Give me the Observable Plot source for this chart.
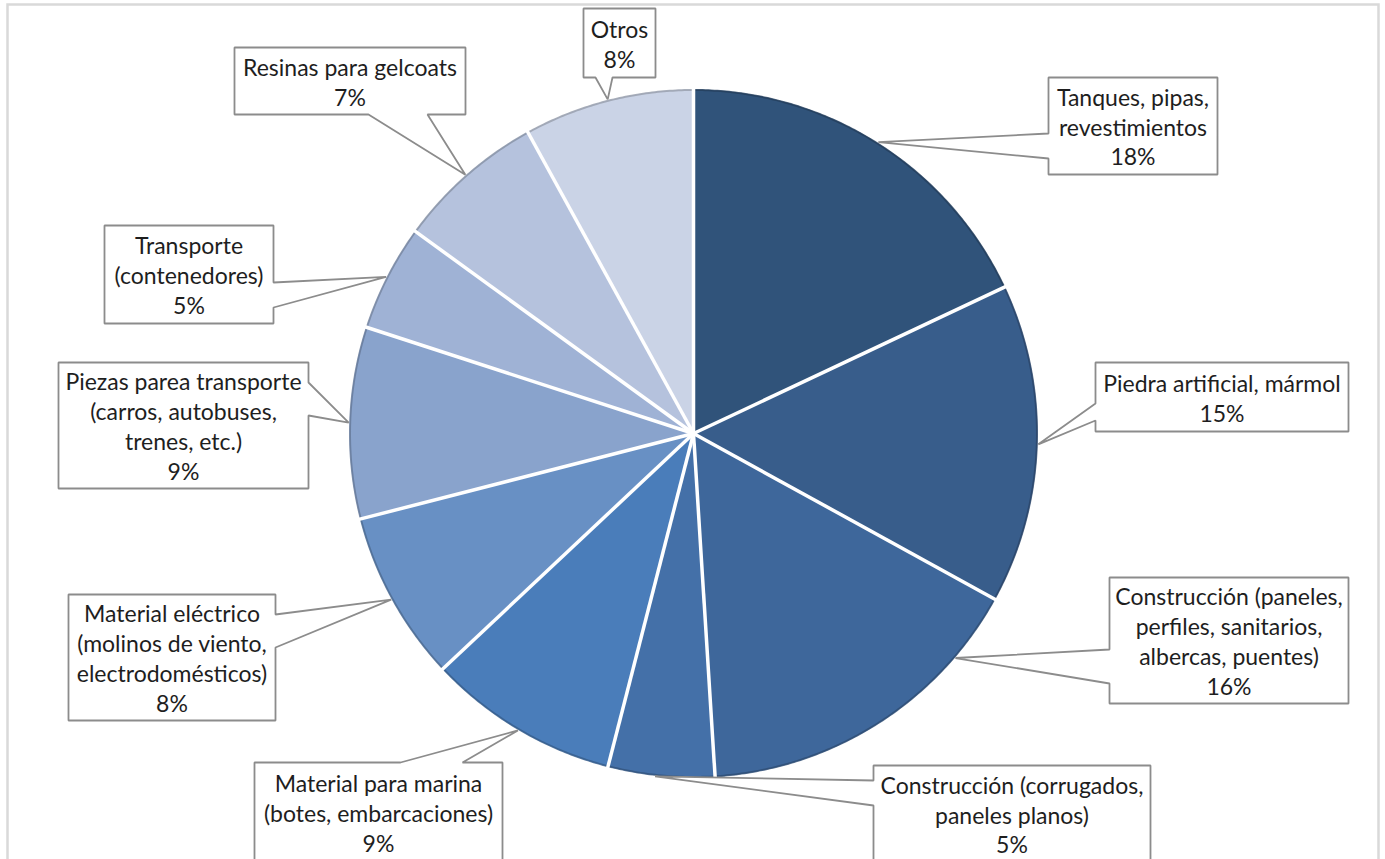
<!DOCTYPE html>
<html>
<head>
<meta charset="utf-8">
<script src="https://cdn.jsdelivr.net/npm/d3@7"></script>
<script src="https://cdn.jsdelivr.net/npm/@observablehq/plot@0.6"></script>
<style>
  html, body { margin: 0; padding: 0; background: #ffffff; }
  #chart svg { display: block; }
</style>
</head>
<body>
<div id="chart"></div>
<script>
// ---- data ----
const categories = [
  "Tanques, pipas, revestimientos",
  "Piedra artificial, mármol",
  "Construcción (paneles, perfiles, sanitarios, albercas, puentes)",
  "Construcción (corrugados, paneles planos)",
  "Material para marina (botes, embarcaciones)",
  "Material eléctrico (molinos de viento, electrodomésticos)",
  "Piezas parea transporte (carros, autobuses, trenes, etc.)",
  "Transporte (contenedores)",
  "Resinas para gelcoats",
  "Otros"
];
const labelText = [
  "Tanques, pipas,\nrevestimientos",
  "Piedra artificial, mármol",
  "Construcción (paneles,\nperfiles, sanitarios,\nalbercas, puentes)",
  "Construcción (corrugados,\npaneles planos)",
  "Material para marina\n(botes, embarcaciones)",
  "Material eléctrico\n(molinos de viento,\nelectrodomésticos)",
  "Piezas parea transporte\n(carros, autobuses,\ntrenes, etc.)",
  "Transporte\n(contenedores)",
  "Resinas para gelcoats",
  "Otros"
];
const shares = [18, 15, 16, 5, 9, 8, 9, 5, 7, 8];

// ---- styles ----
const colors = ["#30537a", "#385d8b", "#3e679b", "#4470a8", "#4a7dba", "#6890c4", "#89a3cc", "#9fb2d5", "#b5c2dd", "#cad3e6"];

// ---- layout (pixel frame) ----
const W = 1385, H = 859;
const cx = 693, cy = 433, R = 344;
// callout boxes: [left, top, right, bottom], pointer side, pointer base span, tip angle shift (deg)
const callouts = [
  {box: [1048, 77, 1217, 174], side: "left", base: [133, 158], shift: 0},
  {box: [1095, 362, 1348, 431], side: "left", base: [403, 420], shift: 0},
  {box: [1109, 577, 1348, 703], side: "left", base: [649, 683], shift: -17},
  {box: [873, 765, 1150, 862], side: "left", base: [780, 805], shift: 1},
  {box: [254, 762, 502, 862], side: "top", base: [400, 462], shift: 0},
  {box: [68, 594, 275, 720], side: "right", base: [614, 647], shift: 0},
  {box: [58, 362, 308, 488], side: "right", base: [382, 415], shift: 0},
  {box: [104, 225, 273, 323], side: "right", base: [282, 307], shift: 0},
  {box: [234, 47, 465, 114], side: "bottom", base: [368, 427], shift: 0},
  {box: [583, 8, 655, 77], side: "bottom", base: [595, 612], shift: 0}
];

// ---- geometry ----
const slices = d3.pie().sort(null).value(d => d)(shares);
const pt = (a, r) => ({x: cx + r * Math.sin(a), y: cy - r * Math.cos(a)});
const stepA = Math.PI / 360;

function arcPoints(s, r, k) {
  const n = Math.max(2, Math.ceil((s.endAngle - s.startAngle) / stepA));
  const out = [];
  for (let j = 0; j <= n; j++) {
    const a = s.startAngle + (s.endAngle - s.startAngle) * j / n;
    out.push({...pt(a, r), k});
  }
  return out;
}

const wedgePts = slices.flatMap((s, i) => {
  const k = categories[i];
  return [{...pt(0, 0), k}, ...arcPoints(s, R, k), {...pt(0, 0), k}];
});

function calloutPoly(c, tip, id) {
  const [x0, y0, x1, y1] = c.box;
  const [a, b] = c.base;
  let p;
  switch (c.side) {
    case "left": p = [[x0, y0], [x1, y0], [x1, y1], [x0, y1], [x0, b], [tip.x, tip.y], [x0, a]]; break;
    case "right": p = [[x0, y0], [x1, y0], [x1, a], [tip.x, tip.y], [x1, b], [x1, y1], [x0, y1]]; break;
    case "top": p = [[x0, y0], [a, y0], [tip.x, tip.y], [b, y0], [x1, y0], [x1, y1], [x0, y1]]; break;
    default: p = [[x0, y0], [x1, y0], [x1, y1], [b, y1], [tip.x, tip.y], [a, y1], [x0, y1]];
  }
  p.push(p[0], p[1]);
  return p.map(([x, y]) => ({x, y, id}));
}

const labels = slices.map((s, i) => {
  const c = callouts[i];
  const mid = (s.startAngle + s.endAngle) / 2 + c.shift * Math.PI / 180;
  const tip = pt(mid, R + 1);
  return {
    id: categories[i],
    tip,
    poly: calloutPoly(c, tip, categories[i]),
    tx: (c.box[0] + c.box[2]) / 2,
    ty: (c.box[1] + c.box[3]) / 2,
    text: labelText[i] + "\n" + shares[i] + "%"
  };
});

const font = "Lato, 'Open Sans', sans-serif";

const chart = Plot.plot({
  width: W,
  height: H,
  margin: 0,
  x: {domain: [0, W], range: [0, W], axis: null},
  y: {domain: [0, H], range: [0, H], axis: null},
  color: {domain: categories, range: colors},
  style: {background: "white", fontFamily: font},
  marks: [
    Plot.frame({stroke: "#d9d9d9", strokeWidth: 2.5, insetLeft: 7, insetTop: 4, insetRight: 7, insetBottom: -20}),
    Plot.line(wedgePts, {x: "x", y: "y", z: "k", fill: "k", stroke: "none"}),
    ...slices.map((s, i) => Plot.line(arcPoints(s, R - 0.5, categories[i]), {
      x: "x", y: "y",
      stroke: d3.color(colors[i]).darker(0.9).formatHex(),
      strokeWidth: 2, strokeOpacity: 0.75
    })),
    Plot.link(slices, {
      x1: () => cx, y1: () => cy,
      x2: s => pt(s.startAngle, R + 1.5).x,
      y2: s => pt(s.startAngle, R + 1.5).y,
      stroke: "white", strokeWidth: 3.5
    }),
    Plot.line(labels.flatMap(d => d.poly), {
      x: "x", y: "y", z: "id",
      fill: "white", stroke: "#8c8c8c", strokeWidth: 1.8,
      strokeLinejoin: "miter", strokeLinecap: "butt"
    }),
    Plot.text(labels, {
      x: "tx", y: "ty", text: "text",
      dy: 0,
      fontSize: 23, lineHeight: 1.3,
      fill: "#1e1e1e", fontFamily: font
    })
  ]
});

document.getElementById("chart").append(chart);
</script>
</body>
</html>
